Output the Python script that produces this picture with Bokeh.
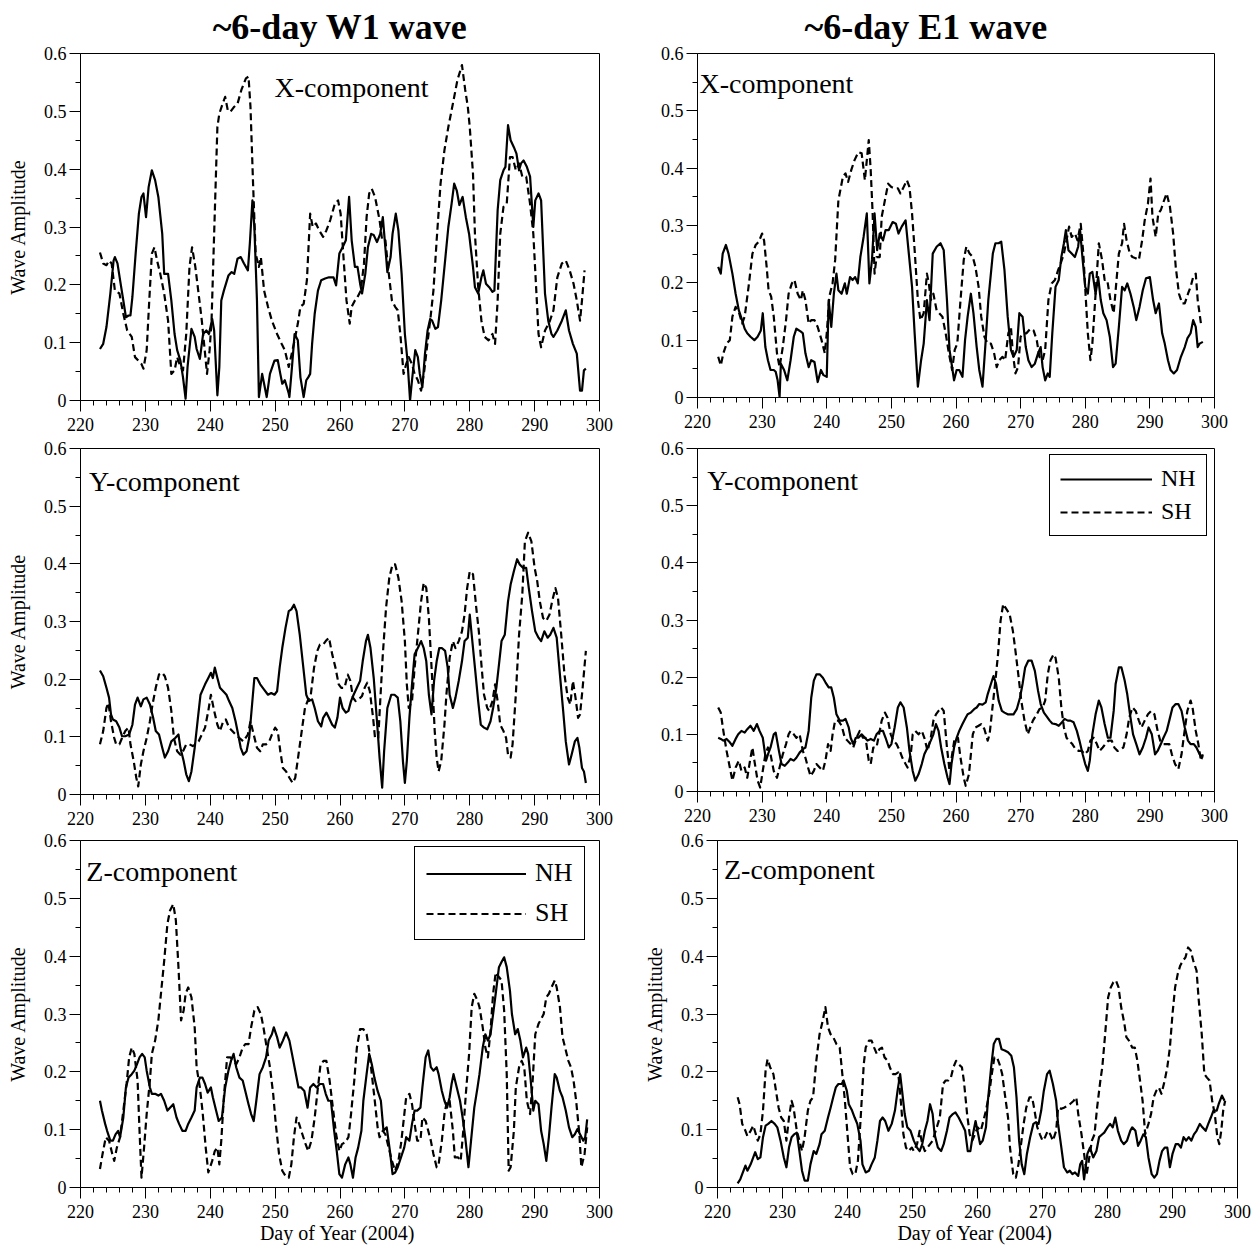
from bokeh.plotting import figure
from bokeh.models import Range1d, FixedTicker, CustomJSTickFormatter, Label, Legend, LegendItem
from bokeh.layouts import column, row
from bokeh.embed import file_html
from bokeh.resources import INLINE

SERIF = "Liberation Serif"

X_TICKS = [220, 230, 240, 250, 260, 270, 280, 290, 300]
X_MINOR = [d for d in range(220, 301, 2) if d % 10 != 0]
Y_TICKS = [0, 0.1, 0.2, 0.3, 0.4, 0.5, 0.6]
Y_MINOR = [0.05, 0.15, 0.25, 0.35, 0.45, 0.55]

COL_TITLES = ["~6-day W1 wave", "~6-day E1 wave"]
PANEL_NAMES = ["X-component", "Y-component", "Z-component"]
SERIES_NAMES = ["NH", "SH"]
X_LABEL = "Day of Year  (2004)"
Y_LABEL = "Wave Amplitude"

# ---------------- W1, X-component ----------------
W1_X_NH = [(223.0,0.089),(223.5,0.098),(224.0,0.127),(224.6,0.185),(225.1,0.242),(225.3,0.248),(225.7,0.237),(226.1,0.208),(226.6,0.173),(227.0,0.144),(227.4,0.147),(227.7,0.147),(228.0,0.179),(228.5,0.254),(229.0,0.323),(229.4,0.352),(229.7,0.358),(230.1,0.317),(230.5,0.369),(231.0,0.398),(231.5,0.381),(232.0,0.352),(232.6,0.288),(232.9,0.219),(233.5,0.219),(234.0,0.173),(234.5,0.115),(234.9,0.087),(235.4,0.069),(235.8,0.040),(236.2,0.003),(236.5,0.058),(237.1,0.124),(237.6,0.110),(237.9,0.089),(238.4,0.072),(238.9,0.115),(239.4,0.121),(239.8,0.115),(240.3,0.141),(240.6,0.121),(241.1,0.009),(241.4,0.058),(241.7,0.173),(242.1,0.190),(242.8,0.216),(243.3,0.222),(243.7,0.219),(244.2,0.245),(244.7,0.248),(245.2,0.237),(245.8,0.225),(246.1,0.271),(246.5,0.346),(246.8,0.300),(247.2,0.173),(247.5,0.006),(248.0,0.046),(248.3,0.029),(248.7,0.006),(249.2,0.046),(249.9,0.069),(250.4,0.070),(250.8,0.046),(251.1,0.029),(251.5,0.035),(252.1,0.012),(252.2,0.006),(252.6,0.058),(253.0,0.115),(253.5,0.104),(253.9,0.040),(254.4,0.006),(254.8,0.035),(255.1,0.040),(255.4,0.046),(255.7,0.098),(256.1,0.150),(256.6,0.190),(257.1,0.208),(257.7,0.211),(258.3,0.213),(259.0,0.213),(259.4,0.199),(259.9,0.254),(260.4,0.265),(260.9,0.277),(261.4,0.352),(261.8,0.277),(262.3,0.231),(262.7,0.231),(263.1,0.202),(263.4,0.185),(263.9,0.219),(264.3,0.265),(264.8,0.288),(265.2,0.286),(265.7,0.274),(266.2,0.288),(266.6,0.317),(266.9,0.277),(267.3,0.222),(267.8,0.248),(268.1,0.288),(268.6,0.323),(269.0,0.294),(269.5,0.219),(270.0,0.115),(270.4,0.069),(270.8,0.000),(271.1,0.035),(271.6,0.087),(272.0,0.075),(272.3,0.046),(272.7,0.023),(273.1,0.081),(273.5,0.121),(273.9,0.141),(274.2,0.138),(274.7,0.124),(275.1,0.127),(275.6,0.173),(276.2,0.242),(276.7,0.300),(277.2,0.340),(277.6,0.375),(278.0,0.363),(278.4,0.338),(278.9,0.352),(279.4,0.317),(279.9,0.288),(280.5,0.231),(280.8,0.196),(281.3,0.185),(281.8,0.213),(282.1,0.225),(282.5,0.202),(283.0,0.196),(283.5,0.188),(283.8,0.190),(284.3,0.329),(284.7,0.381),(285.2,0.398),(285.5,0.404),(285.9,0.476),(286.3,0.450),(286.8,0.438),(287.2,0.427),(287.6,0.398),(287.9,0.410),(288.3,0.415),(288.8,0.404),(289.3,0.387),(289.8,0.300),(290.1,0.346),(290.6,0.358),(291.0,0.346),(291.6,0.185),(292.1,0.138),(292.6,0.115),(292.9,0.110),(293.5,0.121),(294.2,0.138),(294.8,0.156),(295.3,0.121),(295.9,0.098),(296.5,0.081),(297.0,0.017),(297.3,0.017),(297.6,0.052),(297.9,0.055)]
W1_X_SH = [(223.0,0.256),(223.5,0.237),(224.0,0.234),(224.4,0.242),(224.8,0.237),(225.3,0.190),(226.0,0.185),(226.6,0.150),(227.2,0.121),(227.9,0.110),(228.4,0.075),(228.9,0.069),(229.4,0.063),(229.7,0.055),(230.2,0.087),(230.6,0.173),(231.0,0.254),(231.4,0.265),(231.8,0.242),(232.3,0.219),(232.9,0.185),(233.5,0.138),(234.0,0.046),(234.5,0.052),(234.9,0.075),(235.4,0.058),(235.8,0.052),(236.3,0.115),(236.8,0.231),(237.2,0.265),(237.7,0.231),(238.2,0.185),(238.7,0.138),(239.2,0.081),(239.5,0.046),(239.9,0.087),(240.2,0.138),(240.6,0.288),(241.1,0.473),(241.4,0.496),(241.9,0.513),(242.3,0.525),(242.7,0.502),(243.1,0.499),(243.7,0.508),(244.2,0.513),(244.8,0.537),(245.5,0.557),(245.9,0.560),(246.2,0.508),(246.6,0.375),(247.0,0.254),(247.5,0.231),(247.8,0.248),(248.3,0.190),(248.9,0.162),(249.5,0.138),(250.3,0.115),(251.0,0.098),(251.5,0.087),(252.1,0.058),(252.5,0.078),(253.0,0.104),(253.5,0.133),(253.9,0.162),(254.4,0.167),(254.9,0.208),(255.4,0.323),(255.8,0.300),(256.3,0.306),(256.8,0.294),(257.4,0.283),(257.9,0.294),(258.5,0.312),(259.2,0.340),(259.7,0.346),(260.1,0.323),(260.5,0.254),(261.0,0.173),(261.5,0.133),(261.8,0.162),(262.3,0.173),(262.7,0.179),(263.2,0.190),(263.7,0.237),(264.1,0.317),(264.5,0.358),(264.9,0.366),(265.4,0.352),(266.1,0.312),(266.5,0.277),(267.0,0.277),(267.4,0.231),(268.0,0.173),(268.5,0.162),(268.9,0.156),(269.3,0.115),(269.8,0.046),(270.2,0.063),(270.6,0.075),(271.1,0.063),(271.5,0.046),(272.0,0.035),(272.5,0.017),(273.0,0.052),(273.4,0.092),(273.9,0.138),(274.4,0.190),(274.9,0.277),(275.5,0.375),(276.1,0.433),(276.7,0.473),(277.5,0.519),(278.1,0.554),(278.8,0.580),(279.3,0.537),(279.7,0.508),(280.0,0.473),(280.5,0.392),(280.8,0.288),(281.3,0.196),(281.8,0.138),(282.3,0.110),(282.9,0.104),(283.5,0.115),(283.9,0.098),(284.3,0.173),(284.7,0.288),(285.2,0.335),(285.7,0.340),(286.2,0.421),(286.6,0.421),(287.1,0.398),(287.6,0.410),(288.1,0.387),(288.7,0.387),(289.3,0.340),(289.8,0.288),(290.2,0.202),(290.6,0.115),(291.0,0.092),(291.6,0.121),(292.3,0.136),(292.9,0.156),(293.5,0.213),(294.2,0.237),(294.8,0.242),(295.4,0.225),(296.0,0.202),(296.5,0.173),(297.0,0.138),(297.3,0.173),(297.7,0.225)]

# ---------------- E1, X-component ----------------
E1_X_NH = [(223.2,0.228),(223.6,0.216),(223.9,0.251),(224.4,0.266),(224.8,0.251),(225.4,0.216),(225.9,0.181),(226.4,0.152),(226.9,0.135),(227.3,0.120),(227.7,0.112),(228.2,0.106),(228.8,0.100),(229.3,0.106),(229.8,0.117),(230.1,0.147),(230.5,0.088),(230.9,0.065),(231.3,0.048),(231.8,0.048),(232.1,0.045),(232.4,0.030),(232.7,0.001),(232.9,0.059),(233.4,0.048),(233.9,0.030),(234.4,0.065),(234.9,0.106),(235.3,0.120),(236.0,0.115),(236.3,0.112),(236.7,0.077),(237.2,0.053),(237.6,0.065),(238.1,0.062),(238.6,0.027),(239.1,0.048),(239.5,0.039),(240.0,0.036),(240.3,0.170),(240.7,0.123),(241.1,0.181),(241.5,0.216),(241.8,0.187),(242.3,0.181),(242.8,0.199),(243.1,0.181),(243.6,0.210),(244.0,0.205),(244.4,0.210),(244.8,0.199),(245.2,0.245),(245.7,0.280),(246.2,0.321),(246.6,0.199),(247.0,0.240),(247.4,0.321),(247.8,0.257),(248.2,0.286),(248.7,0.274),(249.1,0.292),(249.6,0.292),(250.2,0.306),(250.7,0.303),(251.1,0.286),(251.6,0.298),(252.2,0.309),(252.7,0.251),(253.2,0.193),(253.6,0.112),(254.1,0.019),(254.6,0.065),(255.0,0.094),(255.5,0.170),(255.9,0.135),(256.4,0.251),(257.0,0.263),(257.6,0.269),(258.1,0.257),(258.6,0.170),(259.0,0.083),(259.7,0.030),(260.1,0.048),(260.5,0.048),(261.0,0.036),(261.4,0.100),(261.8,0.141),(262.3,0.181),(262.7,0.147),(263.2,0.088),(263.6,0.048),(264.1,0.019),(264.6,0.100),(265.0,0.170),(265.7,0.251),(266.1,0.269),(266.6,0.269),(267.0,0.272),(267.5,0.222),(268.0,0.141),(268.5,0.083),(268.9,0.071),(269.4,0.083),(269.8,0.147),(270.3,0.141),(270.8,0.088),(271.2,0.065),(271.7,0.053),(272.2,0.059),(272.7,0.077),(273.1,0.088),(273.4,0.053),(273.8,0.030),(274.2,0.042),(274.5,0.036),(274.9,0.112),(275.4,0.193),(275.9,0.205),(276.3,0.245),(276.7,0.269),(277.0,0.292),(277.4,0.257),(277.9,0.251),(278.4,0.245),(278.9,0.263),(279.2,0.292),(279.6,0.240),(280.0,0.193),(280.4,0.181),(280.7,0.216),(281.1,0.219),(281.6,0.181),(282.0,0.210),(282.4,0.170),(282.8,0.147),(283.3,0.135),(283.8,0.106),(284.3,0.053),(284.7,0.059),(285.2,0.123),(285.7,0.193),(286.1,0.187),(286.5,0.199),(287.0,0.181),(287.5,0.158),(287.9,0.135),(288.4,0.158),(288.9,0.187),(289.4,0.208),(290.0,0.210),(290.5,0.170),(290.9,0.147),(291.4,0.164),(291.9,0.112),(292.3,0.094),(292.8,0.065),(293.2,0.048),(293.7,0.042),(294.2,0.048),(294.8,0.071),(295.4,0.088),(295.8,0.103),(296.3,0.112),(296.7,0.135),(297.1,0.123),(297.4,0.088),(297.7,0.094),(298.2,0.097)]
E1_X_SH = [(223.2,0.071),(223.6,0.056),(224.0,0.077),(224.5,0.094),(225.0,0.100),(225.4,0.141),(225.9,0.158),(226.4,0.149),(226.9,0.129),(227.3,0.141),(227.9,0.193),(228.5,0.251),(229.0,0.266),(229.5,0.272),(230.0,0.286),(230.3,0.274),(230.7,0.228),(231.0,0.187),(231.4,0.176),(231.8,0.141),(232.3,0.077),(232.7,0.053),(233.2,0.088),(233.7,0.135),(234.1,0.181),(234.6,0.199),(235.0,0.205),(235.5,0.181),(236.0,0.170),(236.3,0.187),(236.7,0.170),(237.2,0.129),(237.6,0.135),(238.1,0.135),(238.6,0.123),(239.2,0.100),(239.7,0.077),(240.0,0.112),(240.4,0.176),(240.9,0.199),(241.3,0.240),(241.8,0.344),(242.5,0.385),(242.9,0.391),(243.3,0.376),(243.8,0.397),(244.3,0.414),(244.9,0.428),(245.4,0.426),(245.9,0.379),(246.2,0.414),(246.5,0.449),(246.8,0.397),(247.1,0.321),(247.4,0.216),(247.7,0.245),(248.2,0.245),(248.5,0.315),(249.0,0.344),(249.5,0.373),(250.0,0.367),(250.5,0.365),(251.0,0.365),(251.4,0.356),(251.9,0.367),(252.4,0.379),(252.8,0.367),(253.2,0.321),(253.6,0.257),(254.1,0.170),(254.5,0.135),(255.0,0.147),(255.5,0.216),(255.8,0.199),(256.1,0.170),(256.5,0.181),(257.0,0.152),(257.4,0.147),(257.9,0.141),(258.4,0.112),(258.9,0.077),(259.4,0.048),(259.8,0.083),(260.2,0.094),(260.7,0.170),(261.2,0.240),(261.6,0.263),(262.1,0.251),(262.6,0.245),(263.0,0.228),(263.5,0.193),(263.9,0.141),(264.4,0.106),(264.9,0.094),(265.4,0.094),(265.9,0.077),(266.3,0.053),(266.7,0.065),(267.2,0.071),(267.6,0.065),(268.1,0.112),(268.5,0.123),(268.8,0.077),(269.2,0.042),(269.6,0.053),(270.0,0.106),(270.5,0.112),(270.9,0.112),(271.5,0.120),(272.0,0.117),(272.5,0.100),(272.9,0.071),(273.4,0.065),(273.8,0.083),(274.3,0.170),(274.8,0.199),(275.3,0.205),(275.8,0.222),(276.2,0.234),(276.7,0.251),(277.1,0.274),(277.5,0.298),(277.9,0.280),(278.4,0.286),(278.8,0.274),(279.3,0.303),(279.7,0.251),(280.1,0.170),(280.4,0.112),(280.8,0.065),(281.1,0.094),(281.6,0.181),(282.1,0.269),(282.6,0.240),(283.0,0.205),(283.4,0.205),(283.9,0.170),(284.4,0.147),(284.7,0.187),(285.2,0.251),(285.7,0.269),(286.0,0.303),(286.4,0.274),(286.9,0.251),(287.3,0.245),(287.8,0.243),(288.3,0.240),(288.8,0.274),(289.2,0.309),(289.7,0.338),(290.1,0.382),(290.4,0.315),(290.9,0.280),(291.3,0.321),(291.7,0.327),(292.2,0.344),(292.6,0.356),(293.1,0.333),(293.6,0.286),(294.0,0.228),(294.5,0.181),(295.0,0.164),(295.4,0.164),(295.9,0.181),(296.3,0.193),(296.7,0.210),(297.1,0.216),(297.4,0.170),(297.9,0.129)]

# ---------------- W1, Y-component ----------------
W1_Y_NH = [(223.0,0.215),(223.5,0.205),(224.0,0.185),(224.4,0.168),(224.7,0.139),(225.0,0.130),(225.5,0.127),(226.0,0.116),(226.4,0.101),(226.9,0.101),(227.5,0.104),(228.0,0.121),(228.4,0.156),(228.8,0.168),(229.3,0.153),(229.7,0.165),(230.2,0.168),(230.7,0.156),(231.2,0.133),(231.6,0.110),(232.1,0.104),(232.6,0.081),(233.0,0.064),(233.5,0.075),(234.0,0.092),(234.6,0.098),(235.1,0.104),(235.4,0.081),(235.9,0.058),(236.3,0.035),(236.7,0.023),(237.1,0.040),(237.6,0.081),(238.1,0.133),(238.5,0.173),(239.2,0.191),(239.7,0.202),(240.1,0.211),(240.4,0.202),(240.7,0.220),(241.1,0.202),(241.5,0.185),(242.0,0.179),(242.5,0.173),(242.9,0.162),(243.4,0.150),(243.9,0.127),(244.2,0.110),(244.7,0.081),(245.1,0.069),(245.6,0.075),(246.0,0.098),(246.4,0.150),(246.8,0.202),(247.2,0.202),(247.7,0.191),(248.3,0.182),(248.9,0.173),(249.4,0.176),(249.9,0.173),(250.3,0.179),(250.7,0.220),(251.1,0.254),(251.6,0.289),(252.1,0.318),(252.5,0.321),(252.9,0.329),(253.3,0.318),(253.8,0.277),(254.3,0.225),(254.8,0.173),(255.2,0.162),(255.7,0.165),(256.1,0.150),(256.6,0.127),(257.1,0.118),(257.4,0.133),(257.9,0.142),(258.3,0.133),(258.8,0.121),(259.2,0.116),(259.6,0.133),(260.0,0.168),(260.4,0.150),(260.9,0.142),(261.3,0.145),(261.7,0.162),(262.1,0.173),(262.6,0.185),(263.1,0.197),(263.5,0.231),(264.0,0.266),(264.3,0.277),(264.7,0.254),(265.2,0.202),(265.7,0.127),(266.1,0.064),(266.5,0.012),(266.8,0.075),(267.3,0.150),(267.9,0.173),(268.4,0.173),(268.9,0.168),(269.3,0.127),(269.7,0.058),(270.0,0.020),(270.3,0.058),(270.7,0.133),(271.1,0.191),(271.5,0.243),(272.0,0.254),(272.5,0.266),(272.9,0.254),(273.3,0.231),(273.7,0.173),(274.1,0.139),(274.5,0.197),(274.9,0.231),(275.3,0.254),(275.7,0.254),(276.2,0.249),(276.6,0.220),(276.9,0.173),(277.4,0.150),(277.8,0.168),(278.3,0.197),(278.8,0.231),(279.2,0.266),(279.7,0.272),(280.0,0.312),(280.3,0.277),(280.8,0.220),(281.3,0.162),(281.7,0.121),(282.2,0.116),(282.7,0.113),(283.2,0.127),(283.6,0.150),(284.1,0.185),(284.5,0.225),(284.9,0.266),(285.4,0.277),(285.9,0.335),(286.3,0.364),(286.8,0.387),(287.3,0.408),(287.7,0.399),(288.2,0.393),(288.7,0.393),(289.1,0.358),(289.6,0.318),(290.1,0.283),(290.6,0.272),(291.0,0.266),(291.5,0.283),(292.0,0.272),(292.4,0.277),(292.9,0.289),(293.4,0.272),(293.9,0.208),(294.4,0.145),(294.8,0.092),(295.3,0.052),(295.7,0.069),(296.2,0.092),(296.6,0.098),(296.9,0.081),(297.3,0.046),(297.6,0.040),(297.9,0.020)]
W1_Y_SH = [(223.0,0.087),(223.5,0.110),(224.0,0.150),(224.3,0.159),(224.7,0.127),(225.2,0.098),(225.5,0.087),(226.0,0.087),(226.4,0.098),(226.9,0.110),(227.4,0.116),(227.7,0.087),(228.2,0.058),(228.6,0.029),(228.9,0.014),(229.3,0.052),(229.7,0.075),(230.2,0.098),(230.7,0.127),(231.1,0.156),(231.6,0.185),(232.1,0.208),(232.6,0.211),(233.0,0.205),(233.5,0.185),(234.0,0.145),(234.4,0.098),(234.9,0.075),(235.4,0.069),(235.8,0.075),(236.3,0.087),(236.8,0.087),(237.3,0.084),(237.8,0.087),(238.2,0.092),(238.7,0.104),(239.2,0.116),(239.7,0.145),(240.1,0.173),(240.6,0.145),(241.1,0.121),(241.5,0.110),(242.0,0.127),(242.4,0.130),(242.9,0.116),(243.4,0.110),(243.9,0.104),(244.5,0.098),(245.1,0.092),(245.8,0.104),(246.2,0.127),(246.7,0.104),(247.2,0.081),(247.7,0.075),(248.1,0.087),(248.6,0.087),(249.1,0.092),(249.5,0.104),(250.0,0.116),(250.4,0.110),(250.8,0.075),(251.2,0.046),(251.7,0.040),(252.2,0.029),(252.7,0.020),(253.1,0.029),(253.6,0.069),(254.1,0.110),(254.6,0.150),(255.0,0.162),(255.5,0.173),(256.0,0.220),(256.5,0.249),(256.9,0.260),(257.4,0.260),(257.8,0.266),(258.3,0.272),(258.8,0.243),(259.3,0.220),(259.8,0.191),(260.2,0.185),(260.7,0.185),(261.2,0.208),(261.6,0.197),(262.0,0.168),(262.4,0.162),(262.9,0.165),(263.4,0.171),(263.8,0.185),(264.2,0.194),(264.6,0.179),(265.1,0.133),(265.4,0.098),(265.9,0.098),(266.2,0.162),(266.6,0.243),(267.1,0.324),(267.6,0.376),(268.1,0.399),(268.5,0.399),(269.0,0.376),(269.5,0.335),(270.0,0.266),(270.3,0.191),(270.6,0.150),(271.1,0.162),(271.5,0.220),(272.0,0.277),(272.5,0.335),(272.9,0.367),(273.3,0.358),(273.7,0.306),(274.2,0.202),(274.6,0.110),(274.9,0.064),(275.2,0.040),(275.6,0.058),(276.1,0.121),(276.4,0.173),(276.9,0.237),(277.4,0.266),(277.8,0.254),(278.3,0.266),(278.8,0.283),(279.2,0.312),(279.6,0.358),(280.0,0.387),(280.5,0.382),(281.0,0.324),(281.4,0.283),(281.8,0.225),(282.2,0.173),(282.7,0.150),(283.0,0.145),(283.5,0.162),(283.9,0.191),(284.3,0.162),(284.7,0.121),(285.2,0.110),(285.6,0.098),(285.9,0.069),(286.3,0.064),(286.6,0.087),(287.1,0.173),(287.6,0.277),(288.1,0.347),(288.5,0.439),(289.0,0.454),(289.5,0.439),(290.0,0.393),(290.4,0.370),(290.8,0.335),(291.3,0.306),(291.8,0.301),(292.3,0.312),(292.7,0.335),(293.2,0.358),(293.6,0.341),(294.1,0.277),(294.6,0.208),(295.1,0.168),(295.5,0.156),(295.9,0.197),(296.3,0.168),(296.7,0.133),(297.0,0.139),(297.4,0.185),(297.9,0.249)]

# ---------------- E1, Y-component ----------------
E1_Y_NH = [(223.2,0.094),(223.6,0.092),(224.0,0.089),(224.5,0.092),(225.0,0.086),(225.4,0.080),(225.9,0.092),(226.3,0.100),(226.8,0.106),(227.3,0.103),(227.7,0.109),(228.2,0.115),(228.7,0.106),(229.2,0.118),(229.6,0.106),(230.1,0.094),(230.6,0.054),(230.9,0.065),(231.3,0.077),(231.8,0.100),(232.1,0.103),(232.6,0.071),(233.0,0.048),(233.5,0.045),(234.0,0.051),(234.4,0.057),(234.9,0.054),(235.3,0.059),(235.8,0.068),(236.3,0.074),(236.7,0.077),(237.2,0.106),(237.6,0.164),(238.0,0.194),(238.4,0.205),(238.9,0.205),(239.4,0.199),(239.8,0.191),(240.3,0.182),(240.7,0.182),(241.1,0.164),(241.5,0.135),(242.0,0.124),(242.5,0.124),(242.9,0.127),(243.4,0.112),(243.7,0.094),(244.1,0.083),(244.5,0.094),(244.9,0.094),(245.4,0.100),(245.9,0.094),(246.3,0.089),(246.8,0.092),(247.3,0.089),(247.7,0.100),(248.2,0.106),(248.7,0.106),(249.1,0.094),(249.6,0.077),(250.0,0.083),(250.5,0.112),(251.0,0.147),(251.4,0.156),(251.9,0.147),(252.4,0.112),(252.8,0.071),(253.3,0.036),(253.7,0.019),(254.2,0.030),(254.7,0.048),(255.1,0.065),(255.6,0.077),(256.1,0.089),(256.5,0.100),(256.9,0.118),(257.3,0.106),(257.7,0.077),(258.2,0.048),(258.7,0.024),(259.0,0.013),(259.3,0.048),(259.7,0.077),(260.1,0.094),(260.5,0.106),(261.0,0.118),(261.5,0.129),(261.8,0.135),(262.3,0.138),(262.8,0.144),(263.2,0.147),(263.6,0.153),(264.1,0.152),(264.6,0.156),(264.9,0.170),(265.4,0.188),(265.8,0.202),(266.2,0.188),(266.6,0.159),(267.1,0.141),(267.5,0.138),(268.0,0.135),(268.5,0.135),(268.9,0.135),(269.4,0.144),(269.9,0.164),(270.3,0.188),(270.7,0.217),(271.2,0.229),(271.7,0.229),(272.2,0.211),(272.7,0.176),(273.1,0.153),(273.6,0.138),(274.0,0.132),(274.5,0.124),(274.9,0.119),(275.4,0.118),(275.9,0.115),(276.4,0.121),(276.8,0.127),(277.3,0.124),(277.7,0.124),(278.2,0.121),(278.7,0.106),(279.1,0.089),(279.6,0.065),(280.0,0.048),(280.4,0.036),(280.7,0.054),(281.1,0.100),(281.6,0.135),(282.1,0.159),(282.5,0.147),(283.0,0.118),(283.5,0.094),(283.9,0.094),(284.4,0.141),(284.7,0.188),(285.2,0.217),(285.6,0.217),(286.1,0.194),(286.5,0.170),(287.0,0.129),(287.4,0.100),(287.9,0.083),(288.4,0.065),(288.9,0.077),(289.4,0.094),(289.8,0.112),(290.3,0.100),(290.8,0.065),(291.2,0.071),(291.7,0.083),(292.1,0.094),(292.6,0.106),(293.0,0.124),(293.5,0.147),(294.0,0.153),(294.4,0.153),(294.9,0.141),(295.4,0.112),(295.9,0.089),(296.3,0.083),(296.8,0.083),(297.2,0.077),(297.7,0.065),(298.2,0.059)]
E1_Y_SH = [(223.2,0.147),(223.6,0.138),(224.0,0.106),(224.5,0.071),(225.0,0.042),(225.4,0.019),(225.9,0.042),(226.4,0.054),(226.8,0.036),(227.3,0.042),(227.7,0.024),(228.2,0.059),(228.5,0.077),(228.8,0.054),(229.3,0.019),(229.7,0.007),(230.1,0.036),(230.5,0.065),(230.9,0.077),(231.3,0.065),(231.8,0.036),(232.3,0.024),(232.7,0.042),(233.2,0.065),(233.7,0.083),(234.1,0.100),(234.4,0.106),(234.9,0.100),(235.3,0.094),(235.8,0.100),(236.3,0.071),(236.7,0.059),(237.1,0.042),(237.5,0.027),(238.0,0.036),(238.4,0.048),(238.9,0.042),(239.4,0.036),(239.8,0.054),(240.2,0.083),(240.6,0.071),(240.9,0.100),(241.3,0.124),(241.8,0.124),(242.3,0.115),(242.8,0.094),(243.2,0.089),(243.7,0.083),(244.1,0.077),(244.6,0.094),(245.1,0.106),(245.6,0.094),(246.0,0.094),(246.5,0.054),(246.8,0.048),(247.2,0.077),(247.7,0.077),(248.2,0.106),(248.5,0.124),(249.0,0.138),(249.4,0.129),(249.9,0.100),(250.3,0.089),(250.8,0.083),(251.3,0.071),(251.7,0.059),(252.2,0.048),(252.5,0.042),(253.0,0.065),(253.3,0.100),(253.7,0.106),(254.2,0.100),(254.7,0.106),(255.1,0.094),(255.6,0.071),(256.1,0.094),(256.5,0.124),(256.9,0.135),(257.3,0.141),(257.7,0.147),(258.1,0.141),(258.6,0.077),(259.0,0.036),(259.4,0.065),(259.8,0.094),(260.3,0.094),(260.7,0.059),(261.2,0.024),(261.5,0.010),(262.0,0.030),(262.3,0.065),(262.6,0.100),(263.0,0.112),(263.5,0.115),(263.9,0.118),(264.4,0.109),(264.9,0.089),(265.2,0.100),(265.7,0.153),(266.1,0.194),(266.5,0.240),(266.9,0.299),(267.3,0.328),(267.8,0.319),(268.3,0.310),(268.8,0.281),(269.2,0.246),(269.7,0.199),(270.1,0.159),(270.6,0.124),(271.1,0.100),(271.5,0.112),(271.9,0.124),(272.5,0.135),(272.9,0.144),(273.4,0.147),(273.8,0.159),(274.2,0.205),(274.6,0.229),(275.1,0.240),(275.4,0.234),(275.9,0.199),(276.3,0.147),(276.7,0.112),(277.1,0.094),(277.5,0.089),(278.0,0.083),(278.5,0.074),(279.0,0.071),(279.5,0.071),(279.9,0.065),(280.4,0.071),(280.8,0.089),(281.3,0.094),(281.8,0.083),(282.2,0.071),(282.7,0.077),(283.1,0.083),(283.6,0.089),(284.1,0.089),(284.5,0.077),(285.0,0.071),(285.5,0.074),(285.9,0.077),(286.4,0.100),(286.8,0.129),(287.3,0.147),(287.8,0.141),(288.3,0.124),(288.7,0.112),(289.2,0.124),(289.7,0.135),(290.2,0.141),(290.7,0.135),(291.2,0.106),(291.6,0.089),(292.1,0.083),(292.5,0.083),(293.0,0.083),(293.4,0.065),(293.9,0.048),(294.4,0.039),(294.9,0.065),(295.3,0.100),(295.8,0.141),(296.3,0.159),(296.6,0.147),(297.1,0.106),(297.5,0.083),(297.9,0.054),(298.2,0.065)]

# ---------------- W1, Z-component ----------------
W1_Z_NH = [(223.0,0.150),(223.3,0.133),(223.8,0.110),(224.1,0.098),(224.6,0.081),(225.0,0.081),(225.4,0.092),(225.8,0.098),(226.1,0.087),(226.6,0.121),(227.0,0.173),(227.4,0.190),(227.9,0.196),(228.3,0.202),(228.7,0.213),(229.1,0.225),(229.5,0.231),(229.9,0.225),(230.2,0.202),(230.7,0.173),(231.0,0.162),(231.5,0.162),(232.0,0.159),(232.4,0.162),(232.9,0.150),(233.4,0.133),(233.8,0.138),(234.3,0.144),(234.8,0.121),(235.2,0.110),(235.7,0.098),(236.2,0.098),(236.6,0.110),(237.1,0.121),(237.6,0.133),(237.9,0.173),(238.4,0.190),(238.8,0.190),(239.2,0.179),(239.6,0.164),(240.1,0.173),(240.4,0.156),(240.9,0.133),(241.3,0.115),(241.8,0.121),(242.3,0.173),(242.8,0.202),(243.2,0.219),(243.6,0.231),(244.0,0.208),(244.5,0.190),(245.0,0.185),(245.4,0.167),(245.9,0.144),(246.3,0.127),(246.7,0.115),(247.1,0.150),(247.6,0.196),(248.1,0.208),(248.6,0.225),(249.0,0.254),(249.5,0.265),(249.8,0.277),(250.3,0.260),(250.7,0.242),(251.2,0.254),(251.7,0.268),(252.2,0.254),(252.6,0.231),(253.1,0.202),(253.6,0.173),(254.0,0.173),(254.5,0.167),(255.0,0.138),(255.4,0.173),(255.9,0.179),(256.4,0.173),(256.9,0.179),(257.4,0.179),(257.8,0.162),(258.2,0.150),(258.6,0.150),(259.1,0.098),(259.5,0.063),(259.9,0.023),(260.3,0.017),(260.8,0.040),(261.3,0.052),(261.6,0.040),(262.0,0.017),(262.4,0.052),(262.8,0.069),(263.3,0.098),(263.6,0.150),(264.1,0.196),(264.5,0.231),(264.9,0.213),(265.3,0.190),(265.8,0.167),(266.3,0.150),(266.7,0.098),(267.2,0.104),(267.7,0.063),(268.1,0.023),(268.5,0.026),(268.9,0.035),(269.4,0.052),(269.9,0.069),(270.2,0.087),(270.7,0.081),(271.1,0.110),(271.5,0.133),(271.9,0.133),(272.4,0.138),(272.7,0.173),(273.2,0.225),(273.6,0.237),(274.0,0.208),(274.4,0.202),(274.9,0.208),(275.2,0.196),(275.7,0.167),(276.1,0.150),(276.5,0.138),(276.9,0.156),(277.2,0.179),(277.5,0.196),(278.0,0.173),(278.5,0.150),(278.9,0.121),(279.3,0.087),(279.8,0.035),(280.2,0.081),(280.7,0.138),(281.2,0.173),(281.5,0.196),(282.0,0.242),(282.4,0.265),(282.8,0.254),(283.2,0.265),(283.6,0.300),(284.0,0.335),(284.5,0.381),(284.9,0.390),(285.3,0.398),(285.7,0.381),(286.2,0.340),(286.5,0.300),(287.0,0.265),(287.4,0.274),(287.8,0.254),(288.2,0.225),(288.7,0.242),(289.0,0.231),(289.4,0.185),(289.8,0.133),(290.1,0.150),(290.6,0.144),(291.0,0.098),(291.4,0.075),(291.8,0.046),(292.2,0.087),(292.6,0.138),(293.1,0.196),(293.4,0.190),(293.9,0.167),(294.3,0.156),(294.8,0.133),(295.3,0.104),(295.8,0.087),(296.2,0.092),(296.6,0.101),(297.0,0.092),(297.5,0.081),(297.8,0.087),(298.1,0.118)]
W1_Z_SH = [(223.0,0.032),(223.4,0.058),(223.9,0.087),(224.4,0.081),(224.9,0.058),(225.2,0.046),(225.6,0.069),(226.1,0.087),(226.6,0.133),(227.1,0.179),(227.5,0.225),(227.9,0.242),(228.3,0.231),(228.8,0.185),(229.1,0.098),(229.4,0.017),(229.8,0.069),(230.2,0.127),(230.7,0.185),(231.0,0.231),(231.5,0.254),(232.0,0.289),(232.4,0.335),(232.9,0.392),(233.4,0.456),(233.8,0.479),(234.3,0.490),(234.7,0.462),(235.1,0.381),(235.5,0.289),(235.9,0.306),(236.2,0.335),(236.6,0.346),(237.1,0.329),(237.6,0.277),(237.9,0.208),(238.4,0.173),(238.8,0.133),(239.3,0.069),(239.7,0.026),(240.3,0.046),(240.7,0.063),(241.1,0.069),(241.4,0.040),(241.7,0.081),(242.1,0.156),(242.6,0.225),(243.1,0.225),(243.6,0.219),(244.0,0.213),(244.5,0.225),(245.0,0.242),(245.4,0.248),(245.9,0.248),(246.3,0.277),(246.8,0.306),(247.3,0.312),(247.8,0.300),(248.2,0.277),(248.7,0.242),(249.2,0.208),(249.7,0.162),(250.1,0.110),(250.6,0.058),(251.1,0.029),(251.6,0.020),(252.1,0.017),(252.5,0.040),(252.9,0.087),(253.3,0.121),(253.7,0.110),(254.2,0.092),(254.7,0.075),(255.1,0.063),(255.6,0.081),(256.1,0.121),(256.6,0.173),(257.0,0.213),(257.5,0.219),(257.9,0.219),(258.4,0.185),(258.9,0.138),(259.4,0.092),(259.9,0.063),(260.3,0.075),(260.8,0.078),(261.3,0.087),(261.7,0.127),(262.2,0.185),(262.6,0.242),(263.1,0.274),(263.6,0.274),(264.1,0.265),(264.5,0.237),(264.9,0.196),(265.3,0.156),(265.8,0.104),(266.1,0.087),(266.6,0.098),(267.0,0.092),(267.5,0.069),(268.0,0.046),(268.5,0.029),(269.0,0.046),(269.4,0.075),(269.8,0.115),(270.2,0.156),(270.7,0.162),(271.1,0.144),(271.5,0.110),(271.9,0.081),(272.4,0.081),(272.7,0.121),(273.2,0.115),(273.6,0.098),(274.0,0.081),(274.4,0.058),(274.9,0.035),(275.2,0.040),(275.7,0.081),(276.1,0.127),(276.5,0.150),(276.9,0.150),(277.4,0.098),(277.7,0.052),(278.2,0.052),(278.6,0.046),(279.0,0.098),(279.4,0.162),(279.9,0.231),(280.3,0.312),(280.7,0.335),(281.2,0.323),(281.5,0.312),(282.0,0.277),(282.4,0.242),(282.8,0.225),(283.2,0.271),(283.6,0.335),(284.0,0.372),(284.5,0.364),(284.9,0.358),(285.3,0.306),(285.7,0.196),(286.0,0.029),(286.3,0.035),(286.8,0.098),(287.1,0.173),(287.6,0.208),(288.0,0.219),(288.4,0.208),(288.8,0.150),(289.3,0.127),(289.7,0.185),(290.1,0.265),(290.6,0.283),(290.9,0.289),(291.4,0.300),(291.8,0.329),(292.2,0.335),(292.6,0.346),(293.1,0.358),(293.4,0.346),(293.9,0.312),(294.3,0.260),(294.7,0.242),(295.2,0.219),(295.6,0.208),(296.0,0.185),(296.4,0.150),(296.9,0.092),(297.2,0.035),(297.7,0.058),(298.1,0.104)]

# ---------------- E1, Z-component ----------------
E1_Z_NH = [(223.1,0.007),(223.5,0.014),(223.8,0.023),(224.3,0.038),(224.6,0.029),(225.1,0.040),(225.5,0.052),(225.8,0.061),(226.2,0.049),(226.6,0.052),(227.0,0.087),(227.4,0.107),(227.8,0.110),(228.3,0.115),(228.8,0.110),(229.2,0.104),(229.7,0.081),(230.2,0.052),(230.6,0.035),(231.0,0.069),(231.4,0.087),(231.8,0.092),(232.2,0.095),(232.6,0.063),(233.0,0.029),(233.4,0.012),(233.9,0.012),(234.3,0.040),(234.8,0.063),(235.2,0.058),(235.7,0.075),(236.0,0.092),(236.5,0.098),(237.0,0.121),(237.4,0.138),(237.8,0.156),(238.2,0.173),(238.6,0.179),(239.1,0.179),(239.4,0.185),(239.9,0.167),(240.2,0.144),(240.7,0.133),(241.1,0.121),(241.5,0.110),(242.0,0.081),(242.3,0.040),(242.8,0.026),(243.3,0.029),(243.7,0.040),(244.2,0.052),(244.6,0.081),(245.0,0.115),(245.4,0.121),(245.8,0.115),(246.3,0.098),(246.8,0.110),(247.3,0.133),(247.7,0.167),(248.1,0.196),(248.4,0.167),(248.8,0.127),(249.2,0.104),(249.7,0.098),(250.2,0.081),(250.7,0.069),(251.1,0.063),(251.5,0.075),(251.9,0.098),(252.3,0.115),(252.7,0.144),(253.1,0.127),(253.4,0.092),(253.9,0.069),(254.4,0.063),(254.8,0.075),(255.3,0.098),(255.7,0.121),(256.2,0.127),(256.6,0.130),(257.1,0.121),(257.6,0.110),(258.1,0.098),(258.5,0.063),(258.9,0.063),(259.3,0.092),(259.7,0.115),(260.0,0.098),(260.4,0.075),(260.8,0.081),(261.3,0.104),(261.6,0.150),(262.1,0.208),(262.5,0.248),(262.9,0.257),(263.3,0.257),(263.7,0.239),(264.2,0.237),(264.7,0.234),(265.2,0.228),(265.6,0.208),(266.0,0.156),(266.4,0.081),(266.8,0.040),(267.2,0.023),(267.6,0.058),(268.1,0.087),(268.6,0.110),(269.0,0.113),(269.4,0.110),(269.8,0.133),(270.2,0.167),(270.7,0.196),(271.1,0.202),(271.6,0.179),(272.1,0.150),(272.4,0.110),(272.9,0.069),(273.3,0.035),(273.8,0.026),(274.2,0.029),(274.6,0.023),(275.0,0.026),(275.5,0.020),(275.8,0.040),(276.1,0.046),(276.4,0.014),(276.9,0.058),(277.3,0.069),(277.8,0.052),(278.3,0.063),(278.7,0.087),(279.2,0.092),(279.5,0.095),(280.0,0.104),(280.4,0.110),(280.8,0.104),(281.2,0.121),(281.6,0.098),(282.1,0.081),(282.5,0.075),(283.0,0.081),(283.5,0.098),(283.8,0.104),(284.3,0.098),(284.7,0.072),(285.1,0.081),(285.5,0.092),(285.9,0.087),(286.3,0.052),(286.8,0.023),(287.2,0.017),(287.6,0.023),(288.0,0.046),(288.4,0.063),(288.8,0.069),(289.2,0.069),(289.6,0.035),(290.0,0.058),(290.5,0.075),(290.9,0.075),(291.3,0.069),(291.7,0.087),(292.1,0.081),(292.5,0.087),(292.9,0.081),(293.3,0.092),(293.7,0.098),(294.2,0.110),(294.6,0.104),(295.1,0.098),(295.5,0.110),(295.9,0.121),(296.3,0.133),(296.8,0.133),(297.1,0.144),(297.6,0.159),(298.0,0.150)]
E1_Z_SH = [(223.1,0.156),(223.4,0.144),(223.8,0.110),(224.3,0.098),(224.6,0.089),(225.1,0.098),(225.5,0.107),(225.9,0.092),(226.2,0.081),(226.6,0.092),(227.0,0.133),(227.4,0.202),(227.7,0.222),(228.1,0.208),(228.6,0.196),(229.0,0.167),(229.4,0.138),(229.8,0.121),(230.2,0.115),(230.6,0.081),(231.0,0.121),(231.4,0.150),(231.7,0.138),(232.2,0.098),(232.6,0.081),(233.0,0.063),(233.4,0.087),(233.9,0.133),(234.3,0.150),(234.7,0.156),(235.2,0.219),(235.7,0.265),(236.2,0.289),(236.6,0.312),(237.0,0.277),(237.4,0.265),(237.8,0.260),(238.3,0.248),(238.8,0.242),(239.1,0.208),(239.6,0.150),(240.0,0.092),(240.4,0.035),(240.8,0.023),(241.2,0.023),(241.6,0.046),(242.0,0.115),(242.5,0.213),(242.8,0.242),(243.3,0.254),(243.7,0.254),(244.1,0.242),(244.5,0.231),(244.9,0.239),(245.3,0.242),(245.7,0.225),(246.2,0.219),(246.5,0.208),(247.0,0.196),(247.4,0.196),(247.8,0.199),(248.2,0.150),(248.6,0.092),(249.0,0.069),(249.4,0.063),(249.9,0.069),(250.2,0.063),(250.7,0.075),(251.1,0.098),(251.5,0.075),(251.9,0.063),(252.3,0.069),(252.7,0.075),(253.1,0.081),(253.4,0.092),(253.9,0.110),(254.2,0.121),(254.7,0.179),(255.1,0.185),(255.5,0.185),(255.9,0.190),(256.3,0.208),(256.7,0.219),(257.1,0.213),(257.6,0.208),(257.9,0.185),(258.4,0.127),(258.8,0.092),(259.2,0.081),(259.6,0.092),(260.0,0.104),(260.5,0.098),(260.9,0.115),(261.3,0.133),(261.8,0.162),(262.2,0.196),(262.6,0.225),(263.0,0.225),(263.4,0.213),(263.8,0.196),(264.2,0.162),(264.7,0.121),(265.0,0.069),(265.5,0.023),(265.9,0.017),(266.3,0.040),(266.7,0.075),(267.1,0.110),(267.5,0.138),(268.0,0.156),(268.4,0.156),(268.7,0.138),(269.2,0.104),(269.6,0.092),(270.0,0.081),(270.4,0.087),(270.8,0.098),(271.2,0.092),(271.6,0.081),(272.1,0.098),(272.4,0.138),(272.9,0.136),(273.3,0.138),(273.8,0.141),(274.2,0.144),(274.8,0.150),(275.2,0.156),(275.5,0.127),(276.0,0.092),(276.4,0.058),(276.8,0.023),(277.2,0.052),(277.6,0.081),(278.0,0.092),(278.4,0.138),(278.9,0.185),(279.2,0.208),(279.6,0.260),(280.1,0.329),(280.5,0.346),(280.9,0.355),(281.3,0.358),(281.7,0.346),(282.1,0.312),(282.6,0.283),(282.9,0.260),(283.3,0.254),(283.8,0.242),(284.2,0.242),(284.6,0.219),(285.0,0.185),(285.4,0.150),(285.8,0.092),(286.3,0.110),(286.7,0.127),(287.1,0.156),(287.5,0.167),(287.9,0.173),(288.3,0.162),(288.8,0.185),(289.2,0.208),(289.6,0.242),(290.0,0.300),(290.4,0.346),(290.8,0.369),(291.2,0.384),(291.6,0.392),(292.0,0.398),(292.4,0.415),(292.8,0.410),(293.2,0.392),(293.7,0.375),(294.0,0.329),(294.5,0.265),(294.9,0.196),(295.3,0.190),(295.7,0.185),(296.1,0.150),(296.5,0.127),(296.9,0.087),(297.2,0.075),(297.5,0.098),(297.8,0.133),(298.1,0.150)]


def style_fig(p):
    p.xgrid.visible = False
    p.ygrid.visible = False
    p.background_fill_color = "white"
    p.border_fill_color = "white"
    p.outline_line_color = "black"
    p.outline_line_width = 1
    p.outline_line_alpha = 1
    p.xaxis.ticker = FixedTicker(ticks=X_TICKS, minor_ticks=X_MINOR)
    p.yaxis.ticker = FixedTicker(ticks=Y_TICKS, minor_ticks=Y_MINOR)
    p.yaxis.formatter = CustomJSTickFormatter(code="return tick == 0 ? '0' : tick.toFixed(1);")
    for ax in (p.xaxis[0], p.yaxis[0]):
        ax.axis_line_color = "black"
        ax.axis_line_width = 1
        ax.major_tick_line_color = "black"
        ax.minor_tick_line_color = "black"
        ax.major_tick_out = 11
        ax.major_tick_in = 0
        ax.minor_tick_out = 5
        ax.minor_tick_in = 0
        ax.major_label_text_font = SERIF
        ax.major_label_text_font_size = "18px"
        ax.major_label_text_color = "black"
        ax.axis_label_text_font = SERIF
        ax.axis_label_text_font_size = "20px"
        ax.axis_label_text_font_style = "normal"
        ax.axis_label_text_color = "black"
    p.xaxis.major_label_standoff = 6
    p.yaxis.major_label_standoff = 3
    p.yaxis.axis_label_standoff = 12
    p.xaxis.axis_label_standoff = 1


def make_fig(fw, fh, bl, br, bt, bb, title=None):
    p = figure(frame_width=fw, frame_height=fh,
               min_border_left=bl, min_border_right=br,
               min_border_top=bt, min_border_bottom=bb,
               x_range=Range1d(220, 300), y_range=Range1d(0, 0.6),
               title=title,
               output_backend="svg", toolbar_location=None, tools="")
    style_fig(p)
    if title is not None:
        p.title.text_font = SERIF
        p.title.text_font_size = "36px"
        p.title.text_font_style = "bold"
        p.title.text_color = "black"
        p.title.vertical_align = "top"
        p.title.standoff = 10
    return p


def add_series(p, nh, sh):
    r1 = p.line([d for d, a in nh], [a for d, a in nh], line_color="black",
                line_width=2.2, line_join="round")
    r2 = p.line([d for d, a in sh], [a for d, a in sh], line_color="black",
                line_width=2.2, line_join="round", line_dash="7 4")
    return r1, r2


def add_panel_label(p, text, x, y):
    p.add_layout(Label(x=x, y=y, text=text, x_units="data", y_units="data",
                       text_font=SERIF, text_font_size="28px", text_color="black",
                       text_align="left", text_baseline="alphabetic"))


def add_legend(p, r1, r2, loc, font_size, gw, gh, spacing, padding, standoff):
    leg = Legend(items=[LegendItem(label=SERIES_NAMES[0], renderers=[r1]),
                        LegendItem(label=SERIES_NAMES[1], renderers=[r2])],
                 location=loc, orientation="vertical",
                 label_text_font=SERIF, label_text_font_size=font_size,
                 label_text_color="black", label_text_baseline="middle",
                 glyph_width=gw, glyph_height=gh, label_height=gh,
                 label_standoff=standoff, spacing=spacing, padding=padding,
                 margin=0, border_line_color="black", border_line_width=1,
                 border_line_alpha=1,
                 background_fill_color="white", background_fill_alpha=1)
    p.add_layout(leg)


# Row 1
f1 = make_fig(519, 347, 80, 41, 53, 38, title=COL_TITLES[0])
f1.title.align = "center"
r = add_series(f1, W1_X_NH, W1_X_SH)
add_panel_label(f1, PANEL_NAMES[0], 249.9, 0.541)
f1.yaxis.axis_label = Y_LABEL

f2 = make_fig(517, 344, 57, 40, 53, 41, title=COL_TITLES[1])
f2.title.align = "left"
f2.title.offset = 107
r = add_series(f2, E1_X_NH, E1_X_SH)
add_panel_label(f2, PANEL_NAMES[0], 220.3, 0.5477)

# Row 2
f3 = make_fig(519, 346, 80, 41, 9, 37)
r = add_series(f3, W1_Y_NH, W1_Y_SH)
add_panel_label(f3, PANEL_NAMES[1], 221.3, 0.5433)
f3.yaxis.axis_label = Y_LABEL

f4 = make_fig(517, 343, 57, 40, 10, 39)
r1, r2 = add_series(f4, E1_Y_NH, E1_Y_SH)
add_panel_label(f4, PANEL_NAMES[1], 221.5, 0.5435)
add_legend(f4, r1, r2, (352, 255), "24px", 92, 26, 6, 10, 9)

# Row 3
f5 = make_fig(519, 347, 80, 41, 10, 63)
r1, r2 = add_series(f5, W1_Z_NH, W1_Z_SH)
add_panel_label(f5, PANEL_NAMES[2], 220.9, 0.5469)
add_legend(f5, r1, r2, (334, 247), "26px", 100, 29, 10, 11, 9)
f5.yaxis.axis_label = Y_LABEL
f5.xaxis.axis_label = X_LABEL

f6 = make_fig(520, 347, 72, 22, 10, 63)
r = add_series(f6, E1_Z_NH, E1_Z_SH)
add_panel_label(f6, PANEL_NAMES[2], 221.0, 0.5493)
f6.yaxis.axis_label = Y_LABEL
f6.xaxis.axis_label = X_LABEL

layout = column(row(f1, f2), row(f3, f4), row(f5, f6))

with open("out.html", "w") as fh:
    fh.write(file_html(layout, INLINE))
